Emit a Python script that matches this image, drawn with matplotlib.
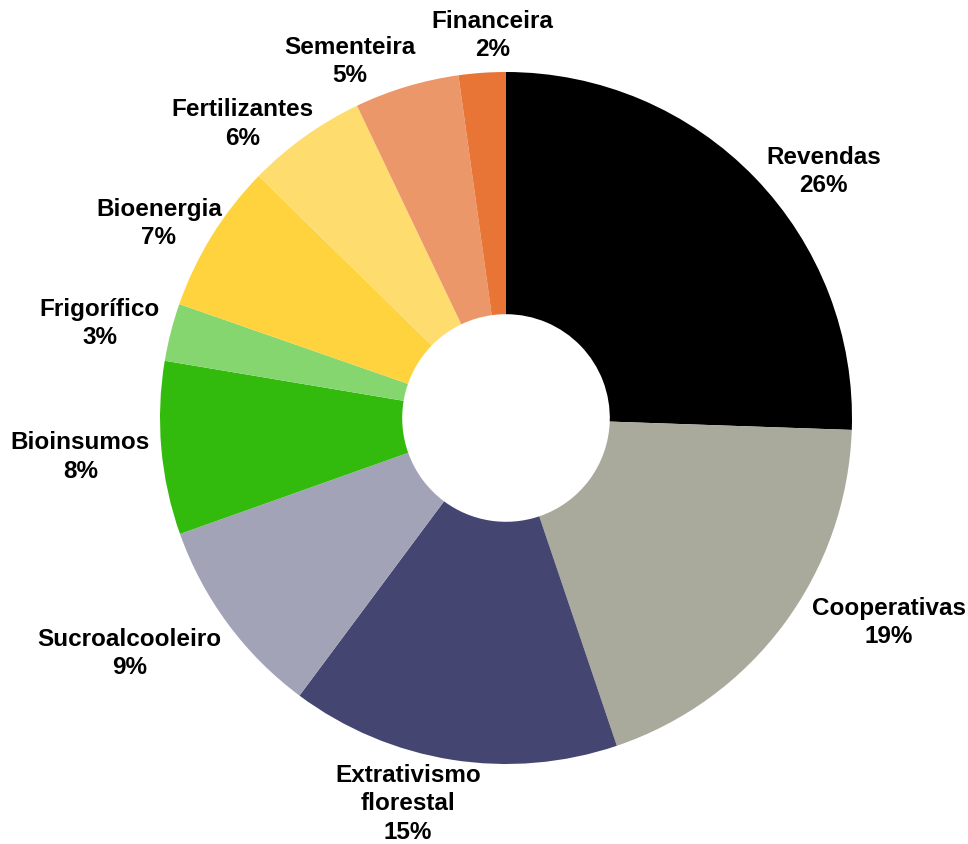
import numpy as np
import matplotlib.pyplot as plt


# ---------------- DATA ----------------
setores = [
    "Revendas",
    "Cooperativas",
    "Extrativismo\nflorestal",
    "Sucroalcooleiro",
    "Bioinsumos",
    "Frigorífico",
    "Bioenergia",
    "Fertilizantes",
    "Sementeira",
    "Financeira",
]
valores = [25.6, 19.3, 15.4, 9.4, 8.1, 2.7, 7.0, 5.6, 4.9, 2.2]
cores = [
    "#000000",
    "#A9AA9C",
    "#454571",
    "#A3A3B8",
    "#32BA0C",
    "#86D66F",
    "#FFD33D",
    "#FFDC6E",
    "#EB9769",
    "#E87536",
]

# label layout: angular nudge from the wedge middle (deg) and distance (radius units)
rot_rotulo = [-6.2, 8.5, -5.3, -4.4, 0.2, 1.3, 2.5, 6.3, 6.9, -1.9]
dist_rotulo = [1.162, 1.254, 1.150, 1.283, 1.235, 1.205, 1.150, 1.141, 1.124, 1.107]

plt.rcParams["font.family"] = ["Liberation Sans", "DejaVu Sans"]

# ---------------- FIGURE ----------------
fig = plt.figure(figsize=(9.68, 8.44), dpi=100)
ax = fig.add_axes([0, 0, 1, 1])

wedges, _ = ax.pie(
    valores,
    colors=cores,
    startangle=90,
    counterclock=False,
    radius=1,
    wedgeprops=dict(width=0.70, linewidth=0),
)

# pie centre at (506, 418) px, radius 346 px
ax.set_xlim(-506 / 346, (968 - 506) / 346)
ax.set_ylim(-(844 - 418) / 346, 418 / 346)
ax.axis("off")

# ---------------- LABELS ----------------
for w, nome, v, rot, dist in zip(wedges, setores, valores, rot_rotulo, dist_rotulo):
    ang = np.deg2rad((w.theta1 + w.theta2) / 2 + rot)
    ax.text(dist * np.cos(ang), dist * np.sin(ang), f"{nome}\n{v:.0f}%",
            ha="center", va="center", fontsize=17.5, fontweight="bold",
            linespacing=1.3)

fig.savefig("out.png", dpi=100)
